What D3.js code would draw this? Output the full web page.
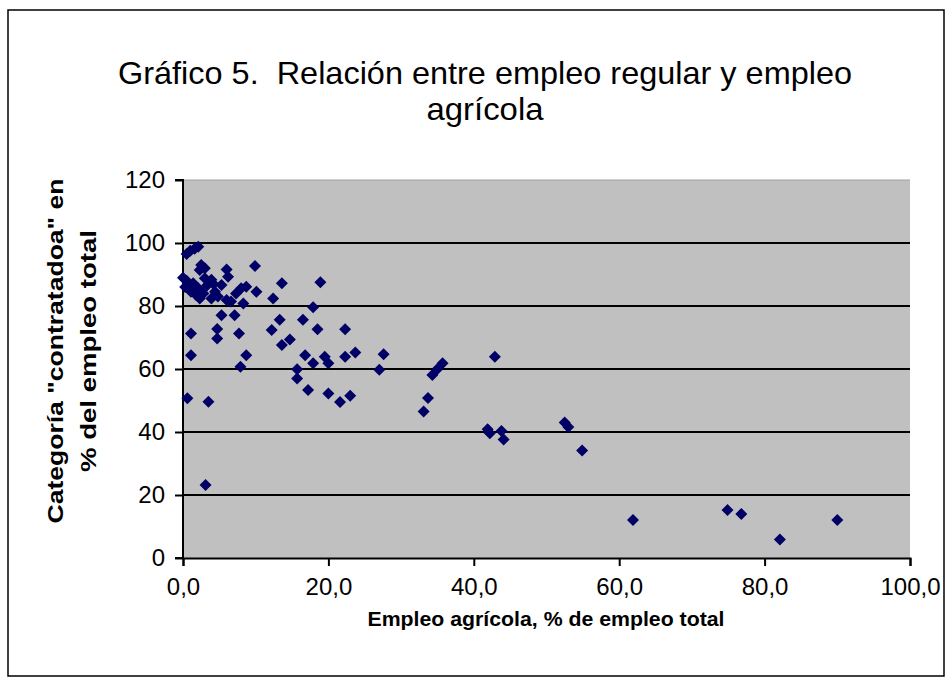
<!DOCTYPE html>
<html>
<head>
<meta charset="utf-8">
<script src="https://cdn.jsdelivr.net/npm/d3@7"></script>
<style>
  body { margin: 0; background: #fff; }
  text { font-family: "Liberation Sans", Arial, sans-serif; fill: #000; }
</style>
</head>
<body>
<div id="viz"></div>
<script>
// values
const empleoAgricola = [
  0.5, 1.0, 1.6, 2.1,
  0.0, 0.5, 1.4, 0.3, 1.1, 0.8, 1.8,
  2.5, 2.3, 3.0, 3.0, 3.9, 2.1, 2.8, 4.4, 3.9, 4.8, 2.3, 3.3, 4.2,
  5.3, 6.0, 6.2, 6.0, 6.6, 7.3, 8.0, 8.7, 8.3, 10.1, 9.9,
  5.3, 7.1, 4.7, 4.7, 7.7, 8.7, 7.9,
  1.1, 1.1, 0.6, 3.5, 3.1,
  12.4, 13.6, 18.9, 17.9, 13.3, 16.5, 12.2, 18.5, 22.3, 13.6, 14.7,
  16.8, 17.9, 19.5, 20.0, 22.3, 23.7, 15.7, 15.7, 17.2, 20.0, 21.6, 23.0,
  27.6, 27.0,
  33.1, 33.7, 34.3, 35.0, 35.7,
  42.9, 41.9, 42.2, 43.8, 44.1,
  52.5, 53.0, 54.9,
  61.9, 74.9, 76.8, 82.1, 90.0
];
const empleoContratado = [
  96.5, 97.5, 98.2, 98.8,
  89.0, 88.0, 87.2, 86.0, 84.5, 85.5, 83.5,
  93.0, 91.4, 92.0, 88.8, 88.3, 85.6, 84.0, 84.5, 82.4, 83.0, 82.4, 86.5, 87.0,
  86.7, 91.6, 89.3, 81.9, 81.4, 84.0, 85.6, 86.1, 80.8, 84.5, 92.7,
  77.1, 77.1, 72.7, 69.7, 71.3, 64.4, 60.7,
  71.3, 64.4, 50.7, 49.6, 23.2,
  82.4, 87.2, 87.5, 79.6, 75.6, 75.6, 72.4, 72.6, 72.6, 67.6, 69.4,
  64.4, 61.8, 63.9, 61.8, 63.9, 65.2, 59.9, 57.0, 53.3, 52.2, 49.5, 51.5,
  64.7, 59.8,
  46.5, 50.8, 58.1, 60.0, 61.8,
  63.9, 40.9, 39.6, 40.3, 37.6,
  43.0, 41.6, 34.1,
  12.1, 15.2, 14.0, 5.9, 12.1
];
const xTicks = [0, 20, 40, 60, 80, 100];
const yTicks = [0, 20, 40, 60, 80, 100, 120];
const titleLines = ['Gráfico 5.  Relación entre empleo regular y empleo', 'agrícola'];
const yTitleLines = ['Categoría "contratadoa" en', '% del empleo total'];
const xTitle = 'Empleo agrícola, % de empleo total';

const data = empleoAgricola.map((v, i) => ({ x: v, y: empleoContratado[i] }));

const width = 950;
const height = 682;
const plot = { left: 183, right: 910, top: 180, bottom: 558 };

const svg = d3.select('#viz')
  .append('svg')
  .attr('width', width)
  .attr('height', height);

// chart frame
svg.append('rect')
  .attr('x', 8).attr('y', 10)
  .attr('width', 936).attr('height', 666)
  .attr('fill', '#fff')
  .attr('stroke', '#000')
  .attr('stroke-width', 1.5);

const x = d3.scaleLinear().domain([0, 100]).range([plot.left, plot.right]);
const y = d3.scaleLinear().domain([0, 120]).range([plot.bottom, plot.top]);

// plot area
svg.append('rect')
  .attr('x', plot.left).attr('y', plot.top)
  .attr('width', plot.right - plot.left).attr('height', plot.bottom - plot.top)
  .attr('fill', '#c0c0c0');

// gridlines
svg.append('g')
  .selectAll('line')
  .data(yTicks.filter(d => d > 0))
  .join('line')
  .attr('x1', plot.left).attr('x2', plot.right)
  .attr('y1', d => y(d)).attr('y2', d => y(d))
  .attr('stroke', d => d === 120 ? '#a0a0a0' : '#000')
  .attr('stroke-width', d => d === 120 ? 1 : 2);

// axes
const xAxis = d3.axisBottom(x)
  .tickValues(xTicks)
  .tickSize(8)
  .tickPadding(12)
  .tickFormat(d => d3.format('.1f')(d).replace('.', ','));

const yAxis = d3.axisLeft(y)
  .tickValues(yTicks)
  .tickSize(8)
  .tickPadding(10)
  .tickFormat(d3.format('d'));

const gx = svg.append('g')
  .attr('transform', `translate(0,${plot.bottom})`)
  .call(xAxis);
const gy = svg.append('g')
  .attr('transform', `translate(${plot.left},0)`)
  .call(yAxis);

[gx, gy].forEach(g => {
  g.select('.domain').attr('stroke', '#000').attr('stroke-width', 2);
  g.selectAll('.tick line').attr('stroke', '#000').attr('stroke-width', 2);
  g.selectAll('.tick text')
    .attr('fill', '#000')
    .style('font-family', '"Liberation Sans", Arial, sans-serif')
    .style('font-size', '24px');
});
gy.select('.domain').attr('d', `M-8,${plot.top}H0V${plot.bottom}H-8`);

// points: Excel style diamonds
const diamond = d3.symbol().type(d3.symbolSquare).size(72);
svg.append('g')
  .selectAll('path')
  .data(data)
  .join('path')
  .attr('d', diamond)
  .attr('transform', d => `translate(${x(d.x)},${y(d.y)}) rotate(45)`)
  .attr('fill', '#000066');

// titles (the source font is narrow, so squeeze to the measured widths)
const titleWidths = [734, 117];
svg.append('g')
  .selectAll('text')
  .data(titleLines)
  .join('text')
  .attr('x', 485)
  .attr('y', (d, i) => 84 + i * 36)
  .attr('text-anchor', 'middle')
  .attr('textLength', (d, i) => titleWidths[i])
  .attr('lengthAdjust', 'spacingAndGlyphs')
  .style('white-space', 'pre')
  .style('font-size', '32px')
  .text(d => d);

svg.append('text')
  .attr('x', 546)
  .attr('y', 626)
  .attr('text-anchor', 'middle')
  .attr('textLength', 357)
  .attr('lengthAdjust', 'spacingAndGlyphs')
  .style('font-size', '21px')
  .style('font-weight', 'bold')
  .text(xTitle);

const yTitleWidths = [345, 242];
svg.append('g')
  .attr('transform', 'translate(0,351) rotate(-90)')
  .selectAll('text')
  .data(yTitleLines)
  .join('text')
  .attr('x', 0)
  .attr('y', (d, i) => 63 + i * 33)
  .attr('text-anchor', 'middle')
  .attr('textLength', (d, i) => yTitleWidths[i])
  .attr('lengthAdjust', 'spacingAndGlyphs')
  .style('font-size', '22px')
  .style('font-weight', 'bold')
  .text(d => d);
</script>
</body>
</html>
